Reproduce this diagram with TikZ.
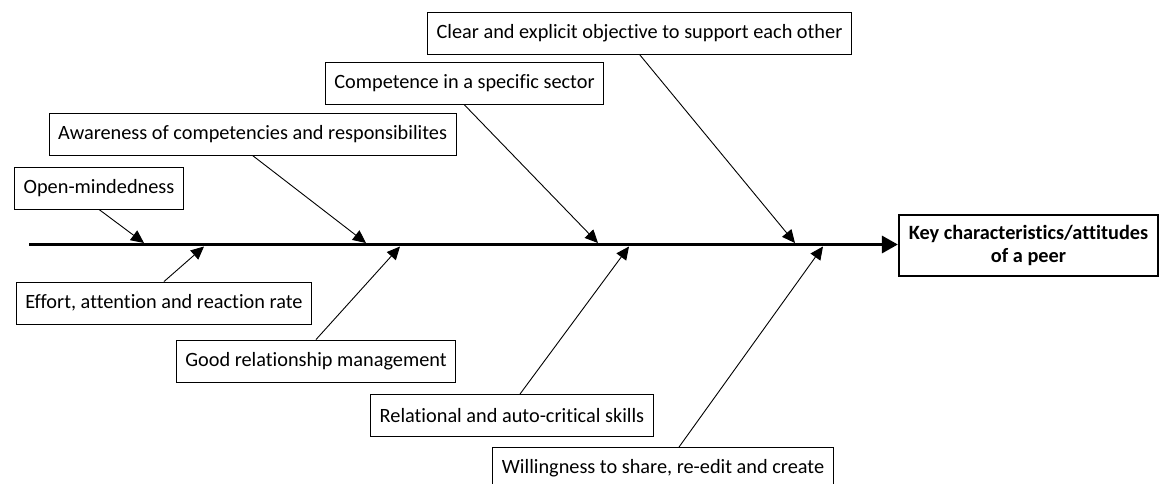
\documentclass[tikz,border=0pt]{standalone}
\usepackage{fontspec}
\setmainfont[Ligatures=NoCommon]{Carlito}
\usepackage{tikz}
\usetikzlibrary{arrows.meta}

\tikzset{
  cause/.style={draw, line width=0.9pt, inner xsep=9pt, minimum height=42pt, font=\fontsize{20.3}{24}\selectfont},
  effect/.style={draw, line width=2.2pt, align=center, inner xsep=8pt, minimum width=259pt, minimum height=61pt, font=\fontsize{20.3}{23}\selectfont\bfseries},
  bone/.style={line width=0.9pt, -{Triangle[length=13pt,width=12pt]}},
  spine/.style={line width=3.2pt, -{Triangle[length=16pt,width=17pt]}}
}

\begin{document}
\begin{tikzpicture}[x=1pt, y=-1pt]
\useasboundingbox (0,0) rectangle (1160,483);
% Effetto
\node at (1028.5,245.5) [effect] (key) {Key characteristics/attitudes\\of a peer};
\coordinate (tail) at (29,244.5);
\draw[spine] (tail) -- (tail -| key.west);

% Cause sopra
\node at (639.5,33) [cause] (clear) {Clear and explicit objective to support each other};
\node at (464.5,83.5) [cause] (comp) {Competence in a specific sector};
\node at (252.5,134) [cause] (aware) {Awareness of competencies and responsibilites};
\node at (99,188) [cause] (open) {Open-mindedness};
\coordinate (t1) at (144,243);
\coordinate (t2) at (366,243);
\coordinate (t3) at (598,243);
\coordinate (t4) at (795,243);
\draw[bone] (open.south) -- (t1);
\draw[bone] (aware.south) -- (t2);
\draw[bone] (comp.south) -- (t3);
\draw[bone] (clear.south) -- (t4);

% Cause sotto
\node at (164,303) [cause] (effort) {Effort, attention and reaction rate};
\node at (316,361) [cause] (goodrel) {Good relationship management};
\node at (512,415.5) [cause] (relat) {Relational and auto-critical skills};
\node at (663,468.5) [cause] (willing) {Willingness to share, re-edit and create};
\coordinate (b1) at (204,246.5);
\coordinate (b2) at (400,246.5);
\coordinate (b3) at (629,246.5);
\coordinate (b4) at (823,246.5);
\draw[bone] (effort.north) -- (b1);
\draw[bone] (goodrel.north) -- (b2);
\draw[bone] ([xshift=8pt]relat.north) -- (b3);
\draw[bone] ([xshift=16pt]willing.north) -- (b4);
\end{tikzpicture}
\end{document}
